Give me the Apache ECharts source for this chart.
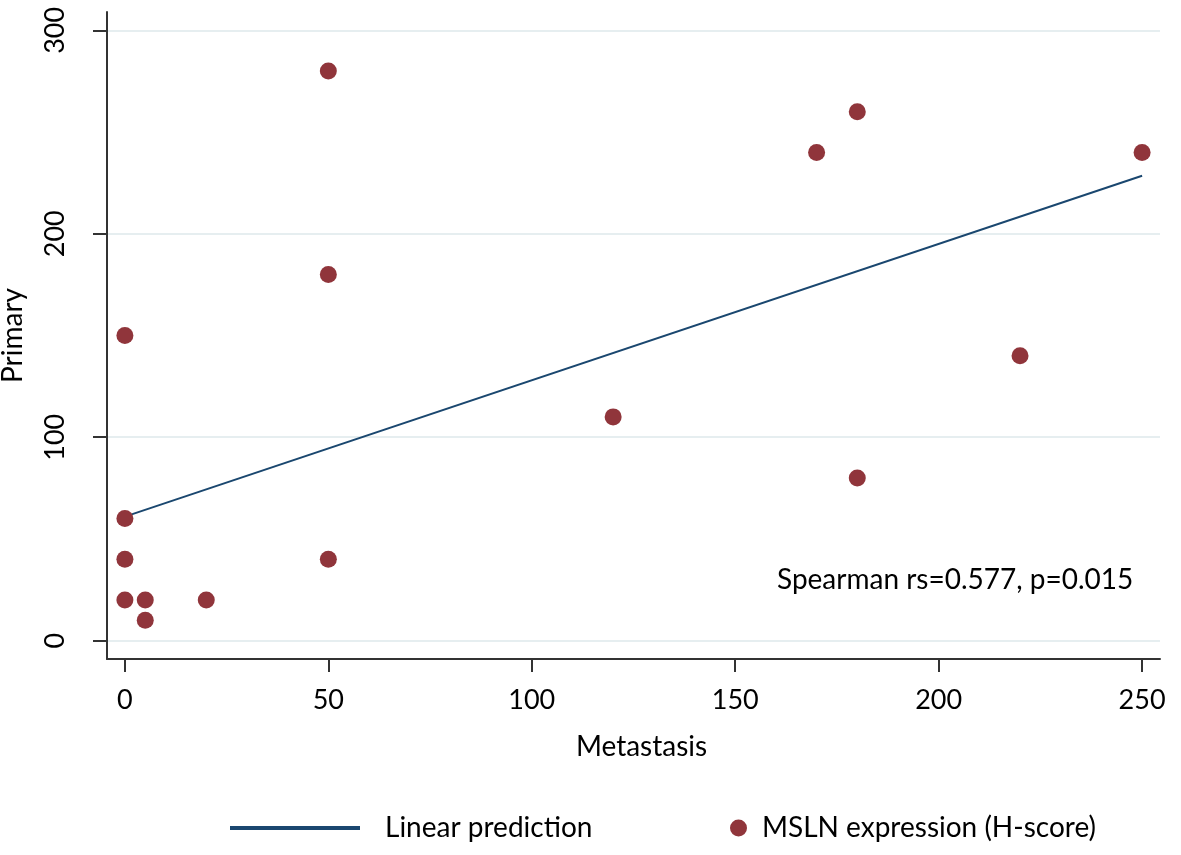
<!DOCTYPE html>
<html>
<head>
<meta charset="utf-8">
<script src="https://cdn.jsdelivr.net/npm/echarts@6/dist/echarts.min.js"></script>
<style>html,body{margin:0;padding:0;background:#fff;}#c{width:1181px;height:855px;}</style>
</head>
<body>
<div id="c"></div>
<script>
// Data
const metastasis = [0, 0, 0, 0, 5, 5, 20, 50, 50, 50, 120, 170, 180, 180, 220, 250];
const primary    = [150, 60, 40, 20, 20, 10, 20, 280, 180, 40, 110, 240, 260, 80, 140, 240];
const predX = [0, 250];
const predY = [61, 228.5];
const xTicks = [0, 50, 100, 150, 200, 250];
const yTicks = [0, 100, 200, 300];
const seriesNames = ['Linear prediction', 'MSLN expression (H-score)'];
const annotation = 'Spearman rs=0.577, p=0.015';

const FONT = 'Lato';
const chart = echarts.init(document.getElementById('c'), null, {renderer: 'canvas'});
const scatterData = metastasis.map((x, i) => [x, primary[i]]);
const lineData = predX.map((x, i) => [x, predY[i]]);

chart.setOption({
  animation: false,
  backgroundColor: '#ffffff',
  textStyle: {fontFamily: FONT},
  grid: {left: 107, right: 21, top: 12, bottom: 196, containLabel: false, outerBoundsMode: 'none'},
  xAxis: {
    type: 'value', min: -4.4, max: 254.4,
    name: 'Metastasis', nameLocation: 'middle', nameGap: 74,
    nameTextStyle: {fontSize: 28, color: '#000', fontFamily: FONT, padding: [0, 0, 0, 16]},
    axisLine: {show: true, onZero: false, lineStyle: {color: '#333', width: 2}},
    axisTick: {show: true, customValues: xTicks, length: 13, lineStyle: {color: '#333', width: 2}},
    axisLabel: {customValues: xTicks, fontSize: 27, color: '#000', margin: 28, fontFamily: FONT},
    splitLine: {show: false}
  },
  yAxis: {
    type: 'value', min: -9, max: 309,
    name: 'Primary', nameLocation: 'middle', nameGap: 80, nameRotate: 90,
    nameTextStyle: {fontSize: 28, color: '#000', fontFamily: FONT},
    axisLine: {show: true, onZero: false, lineStyle: {color: '#333', width: 2}},
    axisTick: {show: true, customValues: yTicks, length: 14, lineStyle: {color: '#333', width: 2}},
    axisLabel: {customValues: yTicks, rotate: 90, fontSize: 27, color: '#000', margin: 38, fontFamily: FONT},
    splitLine: {show: true, lineStyle: {color: '#e6eef0', width: 2}}
  },
  legend: [
    {
      data: [{name: seriesNames[0], icon: 'rect'}],
      left: 230, top: 814, padding: 0, itemWidth: 130, itemHeight: 4,
      textStyle: {fontSize: 28, color: '#000', fontFamily: FONT, padding: [0, 0, 0, 20]}
    },
    {
      data: [{name: seriesNames[1], icon: 'circle'}],
      left: 730, top: 814, padding: 0, itemWidth: 17, itemHeight: 17,
      textStyle: {fontSize: 28, color: '#000', fontFamily: FONT, padding: [0, 0, 0, 10]}
    }
  ],
  graphic: [{
    type: 'text', left: 777, top: 566,
    style: {text: annotation, fontSize: 28, fill: '#000', fontFamily: FONT}
  }],
  series: [
    {
      name: seriesNames[0], type: 'line', data: lineData,
      symbol: 'none', z: 3,
      lineStyle: {color: '#1a476f', width: 2},
      itemStyle: {color: '#1a476f'}
    },
    {
      name: seriesNames[1], type: 'scatter', data: scatterData,
      symbol: 'circle', symbolSize: 17, z: 4,
      itemStyle: {color: '#90353b', opacity: 1}
    }
  ]
});
</script>
</body>
</html>
